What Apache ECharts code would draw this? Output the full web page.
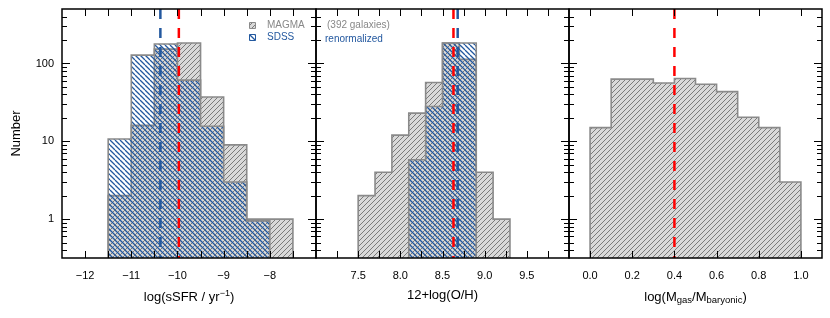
<!DOCTYPE html>
<html><head><meta charset="utf-8">
<script src="https://cdn.jsdelivr.net/npm/echarts@6/dist/echarts.min.js"></script>
<style>html,body{margin:0;padding:0;background:#fff}#c{width:830px;height:318px}</style>
</head><body><div id="c"></div>
<script>
// ---------------- data ----------------
const sfrEdges      = [-11.5, -11, -10.5, -10, -9.5, -9, -8.5, -8, -7.5];
const sfrMagma      = [2, 16, 153, 183, 37, 9, 1, 1];
const sfrSdssEdges  = [-11.5, -11, -10.5, -10, -9.5, -9, -8.5, -8];
const sfrSdss       = [10.7, 128, 178, 61, 15.6, 3, 0.95];
const sfrMedMagma   = -9.97;
const sfrMedSdss    = -10.37;

const ohEdges       = [7.5, 7.7, 7.9, 8.1, 8.3, 8.5, 8.7, 8.9, 9.1, 9.3];
const ohMagma       = [2, 4, 12, 23, 57, 183, 113, 4, 1];
const ohSdssEdges   = [8.1, 8.3, 8.5, 8.7, 8.9];
const ohSdss        = [5.8, 28, 183, 183];
const ohMedMagma    = 8.63;
const ohMedSdss     = 8.68;

const fgasEdges     = [0, 0.1, 0.2, 0.3, 0.4, 0.5, 0.6, 0.7, 0.8, 0.9, 1.0];
const fgasMagma     = [15, 63, 63, 56, 64, 54, 43.5, 20.4, 15, 3];
const fgasMedMagma  = 0.4;

// tick values / labels
const sfrTicks      = [-12, -11.5, -11, -10.5, -10, -9.5, -9, -8.5, -8, -7.5];
const sfrTickLabels = [-12, -11, -10, -9, -8];
const ohTicks       = [7.25, 7.5, 7.75, 8, 8.25, 8.5, 8.75, 9, 9.25, 9.5, 9.75];
const ohTickLabels  = [7.5, 8.0, 8.5, 9.0, 9.5];
const fgasTicks     = [0, 0.2, 0.4, 0.6, 0.8, 1.0];
const fgasTickLabels= [0, 0.2, 0.4, 0.6, 0.8, 1.0];
const yMajorTicks   = [1, 10, 100];
const yMinorTicks   = [0.4, 0.5, 0.6, 0.7, 0.8, 0.9, 2, 3, 4, 5, 6, 7, 8, 9,
                       20, 30, 40, 50, 60, 70, 80, 90, 200, 300, 400];
const yTickLabels   = [1, 10, 100];

// ---------------- styling ----------------
const FONT = '"Liberation Sans", Arial, Helvetica, sans-serif';
const yMin = Math.pow(10, -0.5), yMax = Math.pow(10, 2.7);
const GRAY_LINE = '#8a8a8a', GRAY_BG = '#d9d9d9', BLUE = '#23589f', RED = '#ff0000';

function makeHatch(bg, color, dir, s, lw) {
  const c = document.createElement('canvas'); c.width = s; c.height = s;
  const g = c.getContext('2d');
  if (bg) { g.fillStyle = bg; g.fillRect(0, 0, s, s); }
  g.strokeStyle = color; g.lineWidth = lw;
  g.beginPath();
  for (let k = -1; k <= 1; k++) {
    if (dir > 0) { g.moveTo(k * s, s); g.lineTo(k * s + s, 0); }
    else { g.moveTo(k * s, 0); g.lineTo(k * s + s, s); }
  }
  g.stroke();
  return { image: c, repeat: 'repeat' };
}
const magmaPat = makeHatch(GRAY_BG, '#7a7a7a', 1, 5, 1.0);
const sdssPat  = makeHatch(null, BLUE, -1, 5, 1.3);

function histSeries(gi, edges, counts, pattern, z) {
  return {
    type: 'custom', xAxisIndex: gi, yAxisIndex: gi, z: z, silent: true,
    encode: { x: 0, y: 1 }, data: [[edges[0], 1]],
    renderItem: function (params, api) {
      const vals = [[edges[0], yMin]];
      counts.forEach((c, i) => { vals.push([edges[i], c], [edges[i + 1], c]); });
      vals.push([edges[edges.length - 1], yMin]);
      const pts = vals.map(v => api.coord(v));
      return { type: 'group', children: [
        { type: 'polygon', shape: { points: pts }, style: { fill: pattern } },
        { type: 'polyline', shape: { points: pts }, style: { fill: 'none', stroke: GRAY_LINE, lineWidth: 1.6 } }
      ]};
    }
  };
}

function medianSeries(gi, x0, value, color) {
  return {
    type: 'custom', xAxisIndex: gi, yAxisIndex: gi, z: 6, silent: true,
    encode: { x: 0, y: 1 }, data: [[x0, 1]],
    renderItem: function (params, api) {
      const a = api.coord([value, yMax]), b = api.coord([value, yMin]);
      return { type: 'line', shape: { x1: a[0], y1: a[1], x2: b[0], y2: b[1] },
        style: { stroke: color, lineWidth: 2.5, lineDash: [10, 9] } };
    }
  };
}

function frameSeries(gi, x0, xTicks) {
  return {
    type: 'custom', xAxisIndex: gi, yAxisIndex: gi, z: 10, silent: true,
    encode: { x: 0, y: 1 }, data: [[x0, 1]],
    renderItem: function (params, api) {
      const cs = params.coordSys;
      const L = cs.x, R = cs.x + cs.width, T = cs.y, B = cs.y + cs.height;
      const ch = [];
      const ln = (x1, y1, x2, y2) => ch.push({ type: 'line', shape: { x1, y1, x2, y2 },
        style: { stroke: '#000', lineWidth: 1 } });
      xTicks.forEach(v => {
        const x = Math.round(api.coord([v, 1])[0]) + 0.5;
        ln(x, B, x, B - 7); ln(x, T, x, T + 7);
      });
      yMajorTicks.forEach(v => {
        const y = Math.round(api.coord([x0, v])[1]) + 0.5;
        ln(L, y, L + 8, y); ln(R, y, R - 8, y);
      });
      yMinorTicks.forEach(v => {
        const y = Math.round(api.coord([x0, v])[1]) + 0.5;
        ln(L, y, L + 5, y); ln(R, y, R - 5, y);
      });
      ch.push({ type: 'rect', shape: { x: L, y: T, width: R - L, height: B - T },
        style: { fill: 'none', stroke: '#000', lineWidth: 1.5 } });
      return { type: 'group', children: ch };
    }
  };
}

const near = (list, v) => list.some(t => Math.abs(t - v) < 1e-7);
const baseX = (gi, min, max, fmt, name, rich) => ({
  gridIndex: gi, type: 'value', min: min, max: max,
  axisLine: { show: false }, axisTick: { show: false }, splitLine: { show: false },
  axisLabel: { margin: 12, fontSize: 11, color: '#000', fontFamily: FONT, formatter: fmt,
    showMinLabel: true, showMaxLabel: true },
  name: name, nameLocation: 'middle', nameGap: 31,
  nameTextStyle: { fontSize: 13, color: '#000', fontFamily: FONT, rich: rich || {} }
});
const baseY = (gi, showLabel) => ({
  gridIndex: gi, type: 'log', logBase: 10, min: yMin, max: yMax,
  axisLine: { show: false }, axisTick: { show: false }, splitLine: { show: false },
  axisLabel: { show: showLabel, margin: 8, fontSize: 11, color: '#000', fontFamily: FONT,
    formatter: v => { const r = Math.round(v); return (near(yTickLabels, v) ? String(r) : ''); } },
  name: showLabel ? 'Number' : '', nameLocation: 'middle', nameGap: 39,
  nameTextStyle: { fontSize: 13, color: '#000', fontFamily: FONT }
});

const subRich = { sub: { fontSize: 9.5, fontFamily: FONT, color: '#000', verticalAlign: 'top', padding: [6, 0, 0, 0] } };
const supRich = { sup: { fontSize: 9, fontFamily: FONT, color: '#000', verticalAlign: 'bottom', padding: [0, 0, 7, 0] } };

const option = {
  backgroundColor: '#fff',
  animation: false,
  grid: [
    { left: 62, top: 9, width: 254, height: 249 },
    { left: 316, top: 9, width: 253, height: 249 },
    { left: 569, top: 9, width: 253, height: 249 }
  ],
  xAxis: [
    baseX(0, -12.5, -7, v => near(sfrTickLabels, v) ? String(v).replace('-', '\u2212') : '',
      'log(sSFR / yr{sup|\u22121})', supRich),
    baseX(1, 7, 10, v => near(ohTickLabels, v) ? v.toFixed(1) : '', '12+log(O/H)'),
    baseX(2, -0.1, 1.1, v => near(fgasTickLabels, v) ? v.toFixed(1) : '',
      'log(M{sub|gas}/M{sub|baryonic})', subRich)
  ],
  yAxis: [baseY(0, true), baseY(1, false), baseY(2, false)],
  graphic: [
    { type: 'rect', shape: { x: 249.5, y: 22.5, width: 6, height: 6 }, style: { fill: magmaPat, stroke: GRAY_LINE, lineWidth: 1 } },
    { type: 'text', x: 267, y: 25.5, style: { text: 'MAGMA', fill: '#888', font: '10px ' + FONT, verticalAlign: 'middle' } },
    { type: 'rect', shape: { x: 249.5, y: 34.5, width: 6, height: 6 }, style: { fill: sdssPat, stroke: BLUE, lineWidth: 1 } },
    { type: 'text', x: 267, y: 37.5, style: { text: 'SDSS', fill: BLUE, font: '10px ' + FONT, verticalAlign: 'middle' } },
    { type: 'text', x: 327, y: 25.5, style: { text: '(392 galaxies)', fill: '#888', font: '10px ' + FONT, verticalAlign: 'middle' } },
    { type: 'text', x: 325, y: 39.5, style: { text: 'renormalized', fill: BLUE, font: '10px ' + FONT, verticalAlign: 'middle' } }
  ],
  series: [
    histSeries(0, sfrEdges, sfrMagma, magmaPat, 1),
    histSeries(0, sfrSdssEdges, sfrSdss, sdssPat, 2),
    medianSeries(0, -12, sfrMedSdss, BLUE),
    medianSeries(0, -12, sfrMedMagma, RED),
    frameSeries(0, -12, sfrTicks),

    histSeries(1, ohEdges, ohMagma, magmaPat, 1),
    histSeries(1, ohSdssEdges, ohSdss, sdssPat, 2),
    medianSeries(1, 7.5, ohMedSdss, BLUE),
    medianSeries(1, 7.5, ohMedMagma, RED),
    frameSeries(1, 7.5, ohTicks),

    histSeries(2, fgasEdges, fgasMagma, magmaPat, 1),
    medianSeries(2, 0, fgasMedMagma, RED),
    frameSeries(2, 0, fgasTicks)
  ]
};
const chart = echarts.init(document.getElementById('c'), null, { renderer: 'canvas' });
chart.setOption(option);
</script></body></html>
